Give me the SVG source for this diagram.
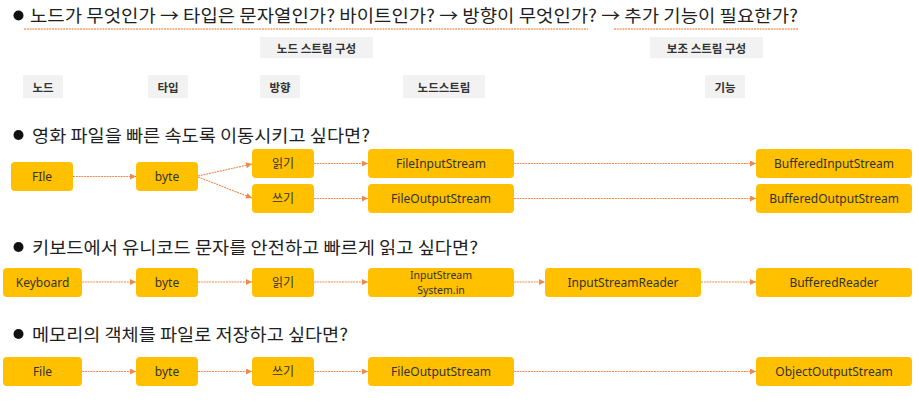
<svg xmlns="http://www.w3.org/2000/svg" width="919" height="417" viewBox="0 0 919 417">
<defs>
<marker id="ah" viewBox="0 0 10 10" refX="10" refY="5" markerWidth="7" markerHeight="6" markerUnits="userSpaceOnUse" orient="auto">
<path d="M0,0 L10,5 L0,10 z" fill="#EE8A4E"/>
</marker>
<style>
.h{font-family:"Noto Sans CJK KR","Noto Sans",sans-serif;font-size:17.5px;fill:#1f1f1f}
.ul{stroke:#F2A06A;stroke-width:1.3;stroke-dasharray:2 0.8}
.lb rect{fill:#F2F2F2}
.lb text{font-family:"Noto Sans CJK KR",sans-serif;font-size:11.5px;font-weight:bold;fill:#333;text-anchor:middle;dominant-baseline:central}
.n rect{fill:#FFC000}
.n text{font-family:"Noto Sans","Noto Sans CJK KR",sans-serif;font-size:12px;fill:#333;text-anchor:middle;dominant-baseline:central}
.n text.sm{font-family:"Noto Sans",sans-serif;font-size:10.5px}
.c line{stroke:#EE8A4E;stroke-width:1.1;stroke-dasharray:2 0.8;marker-end:url(#ah)}
</style>
</defs>
<rect width="919" height="417" fill="#fff"/>

<!-- headings -->
<circle cx="18.5" cy="15.5" r="5" fill="#111"/>
<text class="h" x="30" y="21.5" textLength="768" lengthAdjust="spacingAndGlyphs">노드가 무엇인가 → 타입은 문자열인가? 바이트인가? → 방향이 무엇인가? → 추가 기능이 필요한가?</text>
<line class="ul" x1="24" y1="29" x2="588" y2="29"/>
<line class="ul" x1="614" y1="29" x2="798" y2="29"/>

<circle cx="18.5" cy="135" r="5" fill="#111"/>
<text class="h" x="32" y="141.5" textLength="338" lengthAdjust="spacingAndGlyphs">영화 파일을 빠른 속도록 이동시키고 싶다면?</text>
<circle cx="18.5" cy="247" r="5" fill="#111"/>
<text class="h" x="32" y="253.5" textLength="446" lengthAdjust="spacingAndGlyphs">키보드에서 유니코드 문자를 안전하고 빠르게 읽고 싶다면?</text>
<circle cx="18.5" cy="334" r="5" fill="#111"/>
<text class="h" x="32" y="340.5" textLength="316" lengthAdjust="spacingAndGlyphs">메모리의 객체를 파일로 저장하고 싶다면?</text>

<!-- labels -->
<g id="lbl-node-stream" class="lb"><rect x="260" y="37" width="113" height="21"/><text x="316.5" y="47.5">노드 스트림 구성</text></g>
<g id="lbl-aux-stream" class="lb"><rect x="650" y="37" width="113" height="21"/><text x="706.5" y="47.5">보조 스트림 구성</text></g>
<g id="lbl-node" class="lb"><rect x="23" y="75" width="40" height="23"/><text x="43" y="86.5">노드</text></g>
<g id="lbl-type" class="lb"><rect x="148" y="75" width="40" height="23"/><text x="168" y="86.5">타입</text></g>
<g id="lbl-dir" class="lb"><rect x="260" y="75" width="40" height="23"/><text x="280" y="86.5">방향</text></g>
<g id="lbl-ns" class="lb"><rect x="403" y="75" width="82" height="23"/><text x="444" y="86.5">노드스트림</text></g>
<g id="lbl-func" class="lb"><rect x="705" y="75" width="40" height="23"/><text x="725" y="86.5">기능</text></g>

<!-- connectors -->
<g id="connectors" class="c">
<line x1="73" y1="176.5" x2="136" y2="176.5"/>
<line x1="198" y1="176" x2="252" y2="164"/>
<line x1="198" y1="177" x2="252" y2="198"/>
<line x1="314" y1="163.5" x2="368" y2="163.5"/>
<line x1="314" y1="198.5" x2="368" y2="198.5"/>
<line x1="514" y1="163.5" x2="756" y2="163.5"/>
<line x1="514" y1="198.5" x2="756" y2="198.5"/>

<line x1="82" y1="282" x2="136" y2="282"/>
<line x1="198" y1="282" x2="252" y2="282"/>
<line x1="314" y1="282" x2="368" y2="282"/>
<line x1="514" y1="282" x2="545" y2="282"/>
<line x1="701" y1="282" x2="756" y2="282"/>

<line x1="82" y1="371.5" x2="136" y2="371.5"/>
<line x1="198" y1="371.5" x2="252" y2="371.5"/>
<line x1="314" y1="371.5" x2="368" y2="371.5"/>
<line x1="514" y1="371.5" x2="756" y2="371.5"/>
</g>

<!-- row 1 -->
<g id="r1-file" class="n"><rect x="11" y="162" width="62" height="29" rx="4"/><text x="42" y="176.5">FIle</text></g>
<g id="r1-byte" class="n"><rect x="136" y="162" width="62" height="29" rx="4"/><text x="167" y="176.5">byte</text></g>
<g id="r1-read" class="n"><rect x="252" y="149" width="62" height="29" rx="4"/><text x="283" y="163.5">읽기</text></g>
<g id="r1-write" class="n"><rect x="252" y="184" width="62" height="29" rx="4"/><text x="283" y="198.5">쓰기</text></g>
<g id="r1-fis" class="n"><rect x="368" y="149" width="146" height="29" rx="4"/><text x="441" y="163.5">FileInputStream</text></g>
<g id="r1-fos" class="n"><rect x="368" y="184" width="146" height="29" rx="4"/><text x="441" y="198.5">FileOutputStream</text></g>
<g id="r1-bis" class="n"><rect x="756" y="149" width="156" height="29" rx="4"/><text x="834" y="163.5">BufferedInputStream</text></g>
<g id="r1-bos" class="n"><rect x="756" y="184" width="156" height="29" rx="4"/><text x="834" y="198.5">BufferedOutputStream</text></g>

<!-- row 2 -->
<g id="r2-keyboard" class="n"><rect x="3" y="268" width="79" height="29" rx="4"/><text x="42.5" y="282.5">Keyboard</text></g>
<g id="r2-byte" class="n"><rect x="136" y="268" width="62" height="29" rx="4"/><text x="167" y="282.5">byte</text></g>
<g id="r2-read" class="n"><rect x="252" y="268" width="62" height="29" rx="4"/><text x="283" y="282.5">읽기</text></g>
<g id="r2-is" class="n"><rect x="368" y="268" width="146" height="29" rx="4"/><text class="sm" x="441" y="275"><tspan x="441" y="275">InputStream</tspan><tspan x="441" y="289.8">System.in</tspan></text></g>
<g id="r2-isr" class="n"><rect x="545" y="268" width="156" height="29" rx="4"/><text x="623" y="282.5">InputStreamReader</text></g>
<g id="r2-br" class="n"><rect x="756" y="268" width="156" height="29" rx="4"/><text x="834" y="282.5">BufferedReader</text></g>

<!-- row 3 -->
<g id="r3-file" class="n"><rect x="3" y="357" width="79" height="29" rx="4"/><text x="42.5" y="371.5">File</text></g>
<g id="r3-byte" class="n"><rect x="136" y="357" width="62" height="29" rx="4"/><text x="167" y="371.5">byte</text></g>
<g id="r3-write" class="n"><rect x="252" y="357" width="62" height="29" rx="4"/><text x="283" y="371.5">쓰기</text></g>
<g id="r3-fos" class="n"><rect x="368" y="357" width="146" height="29" rx="4"/><text x="441" y="371.5">FileOutputStream</text></g>
<g id="r3-oos" class="n"><rect x="756" y="357" width="156" height="29" rx="4"/><text x="834" y="371.5">ObjectOutputStream</text></g>
</svg>
